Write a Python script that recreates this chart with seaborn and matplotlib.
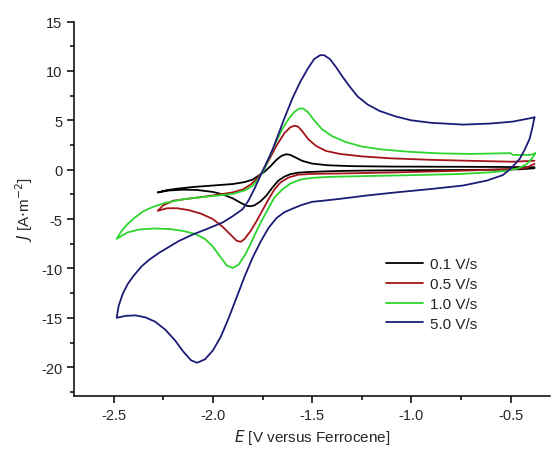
import numpy as np
import pandas as pd
import matplotlib
matplotlib.use("Agg")
import matplotlib.pyplot as plt
import seaborn as sns

# scan rates and digitised CV loops (E in V vs Fc, J in A/m^2)
rates = ['0.1 V/s', '0.5 V/s', '1.0 V/s', '5.0 V/s']
colors = ['#000000', '#a5141a', '#2ed42e', '#1c1c78']

E_01 = [-0.38, -0.45, -0.60, -0.80, -1.00, -1.20, -1.35, -1.45, -1.52, -1.57, -1.61, -1.64, -1.67,
        -1.70, -1.73, -1.76, -1.79, -1.81, -1.83, -1.86, -1.90, -1.95, -2.00, -2.08, -2.15, -2.22,
        -2.278,
        -2.24, -2.18, -2.10, -2.00, -1.90, -1.84, -1.80, -1.77, -1.74, -1.71, -1.68, -1.655, -1.63,
        -1.61, -1.58, -1.55, -1.50, -1.42, -1.30, -1.10, -0.80, -0.55, -0.38]
J_01 = [0.15, 0.05, 0.00, -0.03, -0.05, -0.08, -0.12, -0.18, -0.23, -0.30, -0.45, -0.70, -1.10,
        -1.80, -2.60, -3.20, -3.60, -3.70, -3.65, -3.35, -2.90, -2.50, -2.25, -2.05, -2.02, -2.10,
        -2.30,
        -2.10, -1.92, -1.75, -1.60, -1.45, -1.25, -1.00, -0.60, -0.20, 0.35, 1.00, 1.40, 1.57,
        1.50, 1.20, 0.90, 0.62, 0.45, 0.36, 0.32, 0.30, 0.28, 0.25]

E_05 = [-0.38, -0.42, -0.49, -0.75, -1.08, -1.36, -1.50, -1.57, -1.62, -1.66, -1.69, -1.72, -1.75,
        -1.78, -1.81, -1.84, -1.86, -1.88, -1.91, -1.95, -2.00, -2.06, -2.12, -2.18, -2.23, -2.278,
        -2.25, -2.20, -2.13, -2.07, -2.00, -1.90, -1.85, -1.81, -1.78, -1.75, -1.72, -1.68, -1.64,
        -1.61, -1.59, -1.57, -1.55, -1.52, -1.48, -1.43, -1.36, -1.25, -1.10, -0.90, -0.70, -0.49,
        -0.38]
J_05 = [0.60, 0.20, 0.07, -0.10, -0.27, -0.38, -0.42, -0.50, -0.80, -1.30, -2.00, -3.00, -4.10,
        -5.20, -6.20, -7.00, -7.30, -7.20, -6.60, -5.80, -5.00, -4.45, -4.10, -3.90, -3.90, -4.16,
        -3.60, -3.14, -2.95, -2.80, -2.60, -2.30, -2.00, -1.50, -0.94, -0.20, 0.90, 2.43, 3.70,
        4.30, 4.46, 4.35, 3.90, 3.10, 2.40, 1.90, 1.60, 1.35, 1.15, 1.00, 0.90, 0.81,
        0.91]

E_10 = [-0.376, -0.39, -0.42, -0.46, -0.52, -0.60, -0.76, -1.00, -1.20, -1.41, -1.50, -1.56, -1.61,
        -1.65, -1.69, -1.72, -1.75, -1.78, -1.81, -1.84, -1.87, -1.90, -1.93, -1.96, -2.00, -2.04,
        -2.09, -2.15, -2.22, -2.30, -2.37, -2.43, -2.485,
        -2.46, -2.43, -2.39, -2.35, -2.30, -2.24, -2.15, -2.07, -1.98, -1.90, -1.84, -1.80, -1.77,
        -1.745, -1.715, -1.68, -1.65, -1.62, -1.59, -1.565, -1.545, -1.52, -1.49, -1.45, -1.40,
        -1.33, -1.25, -1.15, -1.00, -0.85, -0.70, -0.50, -0.49, -0.40, -0.376]
J_10 = [1.66, 1.20, 0.55, 0.15, -0.10, -0.26, -0.44, -0.55, -0.63, -0.72, -0.82, -1.00, -1.40,
        -2.00, -2.80, -3.90, -5.00, -6.20, -7.50, -8.70, -9.60, -9.95, -9.70, -8.90, -7.80, -7.00,
        -6.50, -6.20, -6.00, -5.95, -6.05, -6.35, -7.00,
        -6.20, -5.50, -4.80, -4.20, -3.75, -3.35, -3.00, -2.80, -2.62, -2.45, -2.10, -1.62, -0.90,
        -0.10, 1.30, 2.90, 4.13, 5.10, 5.85, 6.20, 6.20, 5.80, 5.00, 4.10, 3.40,
        2.80, 2.35, 2.05, 1.80, 1.65, 1.60, 1.68, 1.50, 1.50, 1.66]

E_50 = [-0.38, -0.39, -0.405, -0.43, -0.455, -0.50, -0.54, -0.62, -0.74, -0.90, -1.08, -1.22, -1.36,
        -1.45, -1.50, -1.55, -1.60, -1.64, -1.68, -1.72, -1.76, -1.80, -1.84, -1.88, -1.92, -1.96,
        -2.00, -2.04, -2.08, -2.11, -2.15, -2.19, -2.24, -2.29, -2.34, -2.39, -2.44, -2.485,
        -2.475, -2.455, -2.43, -2.40, -2.36, -2.32, -2.27, -2.22, -2.17, -2.10, -2.03, -1.95, -1.90,
        -1.85, -1.82, -1.79, -1.757, -1.73, -1.70, -1.67, -1.64, -1.60, -1.56, -1.52, -1.49, -1.46,
        -1.44, -1.41, -1.38, -1.35, -1.31, -1.27, -1.22, -1.16, -1.08, -1.00, -0.90, -0.74, -0.60,
        -0.49, -0.38]
J_50 = [5.30, 4.30, 3.10, 2.00, 1.08, 0.10, -0.55, -1.10, -1.60, -1.95, -2.30, -2.60, -2.95,
        -3.15, -3.25, -3.55, -3.95, -4.30, -4.90, -5.90, -7.30, -8.90, -10.80, -12.90, -15.00, -16.90,
        -18.30, -19.20, -19.55, -19.30, -18.40, -17.30, -16.20, -15.40, -14.95, -14.75, -14.80, -15.00,
        -13.80, -12.60, -11.60, -10.75, -9.80, -9.10, -8.40, -7.80, -7.20, -6.55, -6.00, -5.33, -4.70,
        -3.99, -3.10, -1.90, -0.44, 0.70, 2.00, 3.60, 5.20, 7.20, 8.90, 10.30, 11.20, 11.60,
        11.60, 11.20, 10.40, 9.50, 8.40, 7.40, 6.60, 5.95, 5.40, 5.00, 4.75, 4.57, 4.68,
        4.87, 5.30]

loops = [(E_01, J_01), (E_05, J_05), (E_10, J_10), (E_50, J_50)]
frames = []
for rate, (e, j) in zip(rates, loops):
    frames.append(pd.DataFrame({'E': e, 'J': j, 'rate': rate}))
df = pd.concat(frames, ignore_index=True)

sns.set_style("ticks")
plt.rcParams['font.family'] = ['Liberation Sans', 'DejaVu Sans']

fig = plt.figure(figsize=(5.52, 4.52), dpi=100)
ax = fig.add_axes([0.134, 0.122, 0.863, 0.828])

sns.lineplot(data=df, x='E', y='J', hue='rate', hue_order=rates, palette=colors,
             sort=False, estimator=None, linewidth=1.3, ax=ax)

ax.set_xlim(-2.7, -0.3)
ax.set_ylim(-22.9, 15)
ax.set_xticks([-2.5, -2.0, -1.5, -1.0, -0.5])
ax.set_xticklabels(['-2.5', '-2.0', '-1.5', '-1.0', '-0.5'])
ax.set_xticks(np.arange(-2.25, -0.3, 0.5), minor=True)
ax.set_yticks([-20, -15, -10, -5, 0, 5, 10, 15])
ax.set_yticklabels(['-20', '-15', '-10', '-5', '0', '5', '10', '15'])
ax.set_yticks(np.arange(-22.5, 15, 5), minor=True)
ax.tick_params(which='major', direction='out', length=5, width=1.1, labelsize=10.5, color='black')
ax.tick_params(which='minor', direction='out', length=3, width=1.1, color='black')
for side in ['left', 'bottom']:
    ax.spines[side].set_linewidth(1.1)
    ax.spines[side].set_color('black')
sns.despine(ax=ax)

ax.set_xlabel(r'$\it{E}$ [V versus Ferrocene]', fontsize=11)
ax.set_ylabel(r'$\it{J}$ [A$\cdot$m$^{-2}$]', fontsize=11)

ax.legend(loc='upper left', bbox_to_anchor=(0.655, 0.37), frameon=False, fontsize=11,
          handlelength=2.4, handletextpad=0.45, labelspacing=0.38, borderaxespad=0, borderpad=0)

fig.savefig('out.png', dpi=100)
